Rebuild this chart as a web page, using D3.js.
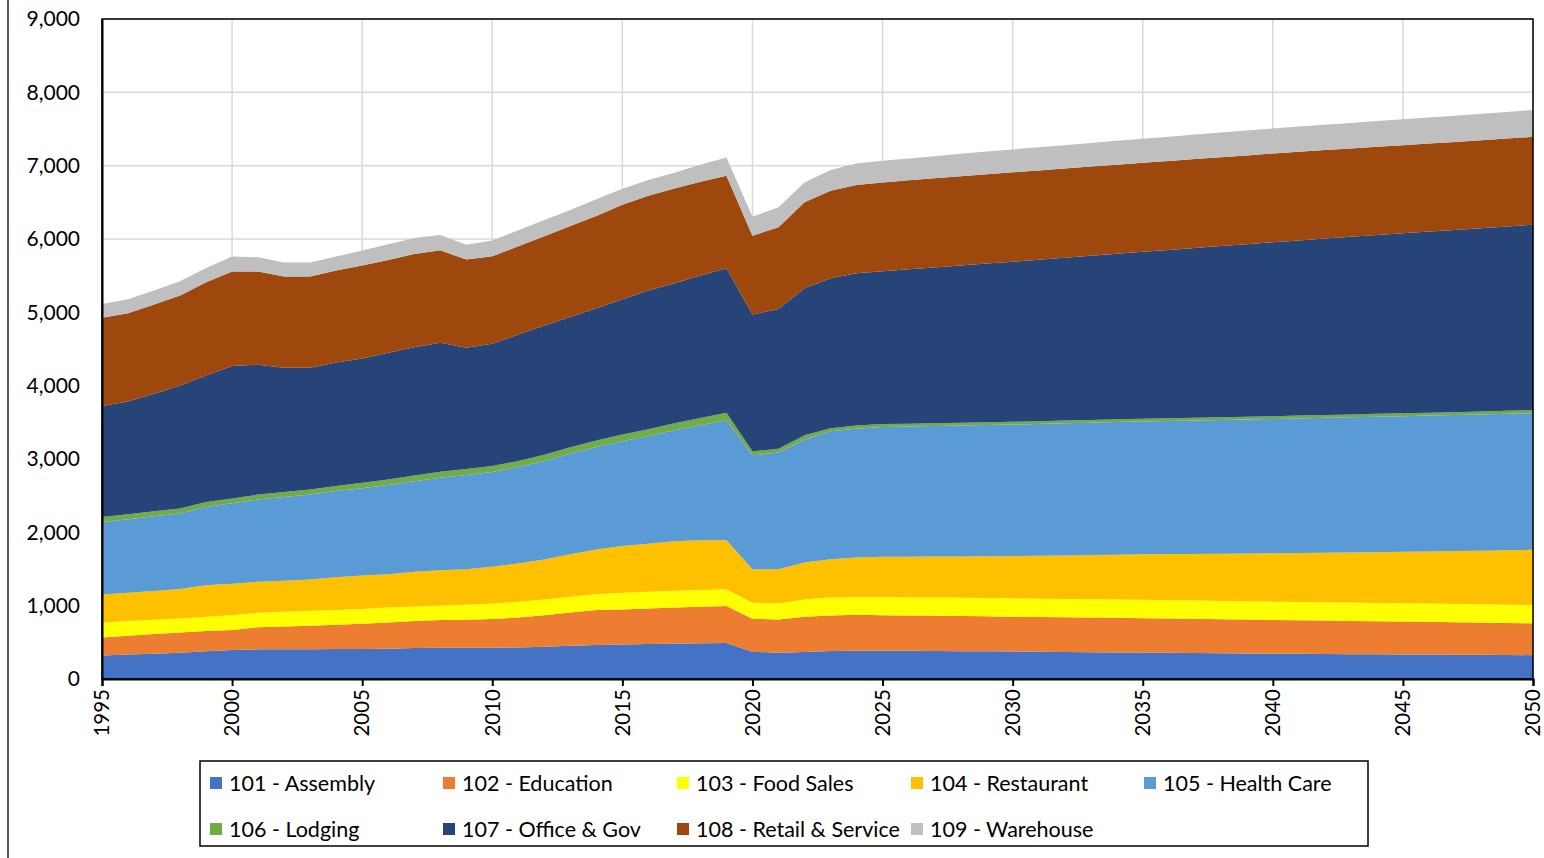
<!DOCTYPE html>
<html>
<head>
<meta charset="utf-8">
<script src="https://cdn.jsdelivr.net/npm/d3@7"></script>
<style>
  body { margin: 0; background: #fff; }
  svg text { font-family: Lato, "Open Sans", sans-serif; fill: #000; }
</style>
</head>
<body>
<script>
const years = d3.range(1995, 2051);

const assembly = [322, 333, 345, 358, 380, 395, 404, 405, 406, 408,
  409, 413, 422, 427, 427, 427, 431, 440, 454, 463,
  470, 477, 481, 486, 490, 372, 359, 368, 381, 386,
  386, 384, 382, 380, 377, 375, 372, 369, 366, 363, 360, 357, 354, 351, 348, 345, 343, 341, 339, 337, 335, 333, 331, 329, 327, 325];
const education = [245, 257, 267, 277, 275, 274, 300, 310, 320, 332,
  344, 359, 368, 376, 381, 390, 409, 431, 454, 477,
  479, 485, 495, 499, 504, 450, 453, 481, 486, 490,
  485, 483, 481, 479, 477, 475, 474, 473, 472, 471, 470, 468, 466, 464, 462, 460, 458, 456, 453, 451, 449, 446, 443, 440, 437, 434];
const foodSales = [200, 200, 196, 191, 193, 202, 199, 201, 204, 202,
  200, 204, 200, 200, 204, 213, 213, 214, 213, 217,
  227, 227, 227, 227, 227, 217, 218, 236, 245, 241,
  246, 247, 248, 249, 250, 250, 250, 250, 250, 250, 250, 250, 250, 250, 250, 250, 250, 250, 250, 250, 250, 250, 250, 250, 250, 250];
const restaurant = [386, 386, 392, 400, 432, 429, 422, 425, 427, 444,
  457, 454, 472, 481, 486, 500, 522, 545, 581, 609,
  639, 655, 676, 681, 672, 459, 468, 504, 522, 540,
  549, 554, 559, 564, 570, 575, 584, 593, 602, 611, 620, 628, 636, 644, 652, 660, 668, 676, 684, 692, 700, 710, 720, 731, 742, 753];
const healthCare = [989, 1004, 1018, 1030, 1067, 1095, 1122, 1140, 1158, 1176,
  1190, 1216, 1234, 1262, 1284, 1293, 1316, 1343, 1371, 1398,
  1428, 1469, 1512, 1566, 1634, 1552, 1589, 1675, 1743, 1756,
  1770, 1775, 1780, 1785, 1790, 1795, 1798, 1802, 1805, 1809, 1812, 1816, 1819, 1823, 1826, 1830, 1834, 1838, 1842, 1846, 1850, 1853, 1855, 1858, 1860, 1863];
const lodging = [68, 68, 68, 68, 68, 68, 68, 68, 68, 70,
  75, 76, 78, 79, 80, 81, 82, 84, 86, 88,
  90, 92, 95, 100, 105, 54, 54, 59, 42, 45,
  40, 39, 39, 38, 38, 38, 37, 37, 37, 37, 37, 37, 38, 38, 38, 38, 39, 39, 39, 40, 40, 40, 40, 41, 41, 41];
const officeGov = [1512, 1537, 1604, 1679, 1725, 1804, 1770, 1695, 1661, 1685,
  1695, 1726, 1751, 1759, 1654, 1667, 1725, 1763, 1779, 1804,
  1847, 1892, 1911, 1942, 1969, 1866, 1906, 2006, 2046, 2075,
  2084, 2104, 2124, 2144, 2163, 2182, 2201, 2220, 2239, 2257, 2276, 2295, 2315, 2334, 2353, 2372, 2389, 2406, 2422, 2439, 2456, 2470, 2485, 2499, 2514, 2528];
const retail = [1203, 1203, 1216, 1226, 1271, 1289, 1271, 1244, 1244, 1252,
  1270, 1267, 1271, 1262, 1203, 1194, 1203, 1217, 1240, 1258,
  1286, 1294, 1293, 1280, 1262, 1076, 1112, 1171, 1194, 1203,
  1212, 1214, 1215, 1217, 1218, 1220, 1219, 1218, 1217, 1216, 1215, 1214, 1213, 1212, 1211, 1210, 1208, 1206, 1204, 1202, 1200, 1200, 1200, 1199, 1199, 1199];
const warehouse = [190, 191, 191, 195, 195, 204, 195, 190, 190, 191,
  202, 213, 218, 209, 204, 213, 218, 222, 218, 227,
  220, 213, 214, 232, 250, 259, 273, 272, 281, 295,
  295, 298, 302, 305, 309, 312, 315, 318, 322, 325, 328, 331, 334, 336, 339, 342, 344, 347, 349, 352, 354, 356, 358, 360, 362, 365];

const seriesNames = ["101 - Assembly", "102 - Education", "103 - Food Sales", "104 - Restaurant",
  "105 - Health Care", "106 - Lodging", "107 - Office & Gov", "108 - Retail & Service", "109 - Warehouse"];
const seriesValues = [assembly, education, foodSales, restaurant, healthCare, lodging, officeGov, retail, warehouse];
const colors = ["#4472C4", "#ED7D31", "#FFFF00", "#FFC000", "#5B9BD5", "#70AD47", "#264478", "#9E480E", "#BFBFBF"];
const yTicks = d3.range(0, 9001, 1000);
const xTicks = d3.range(1995, 2051, 5);

const rows = years.map((yr, i) => {
  const r = { year: yr };
  seriesNames.forEach((n, k) => { r[n] = seriesValues[k][i]; });
  return r;
});

const margin = { top: 19, right: 11, bottom: 179, left: 102 },
  width = 1544 - margin.left - margin.right,
  height = 858 - margin.top - margin.bottom;

const x = d3.scaleLinear().domain([1995, 2050]).range([0, width]);
const y = d3.scaleLinear().domain([0, 9000]).range([height, 0]);
const color = d3.scaleOrdinal().domain(seriesNames).range(colors);

const root = d3.select("body").append("svg")
  .attr("width", 1544)
  .attr("height", 858);

// chart frame edge on the left
root.append("line")
  .attr("x1", 8).attr("x2", 8).attr("y1", 0).attr("y2", 858)
  .attr("stroke", "#222").attr("stroke-width", 1.5);

const svg = root.append("g")
  .attr("transform", `translate(${margin.left}, ${margin.top})`);

// gridlines
svg.append("g").selectAll("line.h")
  .data(yTicks).enter().append("line")
  .attr("x1", 0).attr("x2", width)
  .attr("y1", d => y(d)).attr("y2", d => y(d))
  .attr("stroke", "#d9d9d9").attr("stroke-width", 1.5);
svg.append("g").selectAll("line.v")
  .data(xTicks).enter().append("line")
  .attr("y1", 0).attr("y2", height)
  .attr("x1", d => x(d)).attr("x2", d => x(d))
  .attr("stroke", "#d9d9d9").attr("stroke-width", 1.5);

const stacked = d3.stack().keys(seriesNames)(rows);

const area = d3.area()
  .x(d => x(d.data.year))
  .y0(d => y(d[0]))
  .y1(d => y(d[1]));

svg.selectAll(".layer")
  .data(stacked)
  .enter().append("path")
  .attr("class", "layer")
  .attr("d", area)
  .attr("fill", d => color(d.key));

// plot border
svg.append("rect")
  .attr("x", 0).attr("y", 0)
  .attr("width", width).attr("height", height)
  .attr("fill", "none").attr("stroke", "#000").attr("stroke-width", 1.5);

// y axis
const yAxis = d3.axisLeft(y).tickValues(yTicks).tickSize(0).tickPadding(22).tickFormat(d3.format(","));
svg.append("g")
  .call(yAxis)
  .call(g => g.select(".domain").attr("stroke", "#000").attr("stroke-width", 2))
  .selectAll("text")
  .style("font-size", "21px");

// x axis
const xAxis = d3.axisBottom(x).tickValues(xTicks).tickSize(7).tickFormat(d3.format("d"));
svg.append("g")
  .attr("transform", `translate(0, ${height})`)
  .call(xAxis)
  .call(g => g.select(".domain").attr("stroke", "#000").attr("stroke-width", 2))
  .call(g => g.selectAll(".tick line").attr("stroke", "#000").attr("stroke-width", 2))
  .selectAll("text")
  .style("font-size", "20.5px")
  .attr("text-anchor", "end")
  .attr("transform", "rotate(-90)")
  .attr("x", -10)
  .attr("y", 0)
  .attr("dy", "0.33em");

// legend
const legend = root.append("g");
legend.append("rect")
  .attr("x", 200).attr("y", 761)
  .attr("width", 1168).attr("height", 85)
  .attr("fill", "#fff").attr("stroke", "#000").attr("stroke-width", 1.5);

const colX = [210, 443, 677, 911, 1144];
const rowY = [783, 829];

const item = legend.selectAll(".legend")
  .data(seriesNames)
  .enter().append("g")
  .attr("class", "legend")
  .attr("transform", (d, i) => `translate(${colX[i % 5]}, ${rowY[Math.floor(i / 5)]})`);

item.append("rect")
  .attr("x", 0).attr("y", -6)
  .attr("width", 12).attr("height", 12)
  .attr("fill", d => color(d));

item.append("text")
  .attr("x", 19).attr("y", 0)
  .attr("dy", "0.35em")
  .style("font-size", "21.5px")
  .text(d => d);
</script>
</body>
</html>
